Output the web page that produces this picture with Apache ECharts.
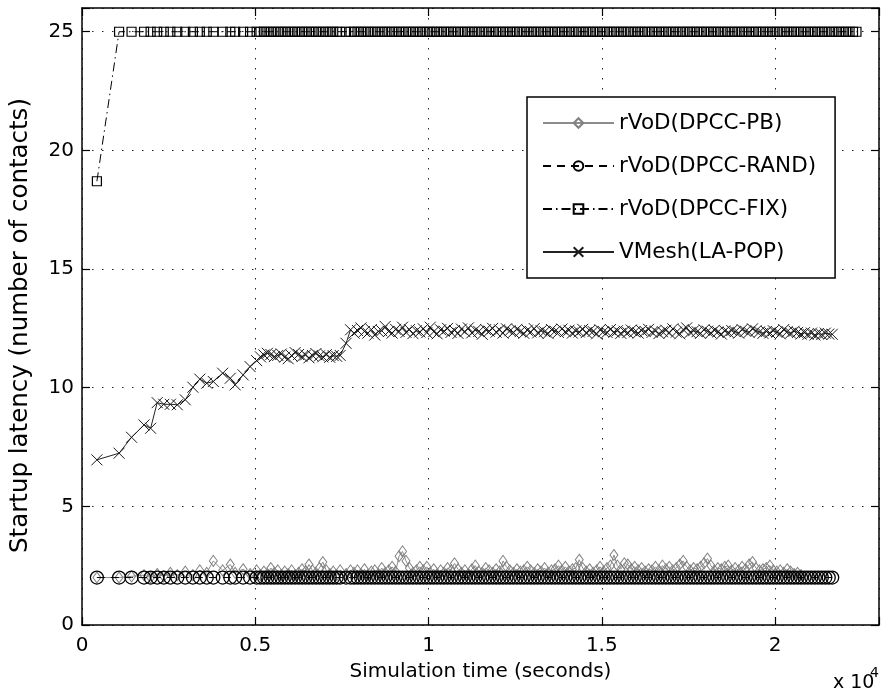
<!DOCTYPE html>
<html>
<head>
<meta charset="utf-8">
<script src="https://cdn.jsdelivr.net/npm/echarts@6/dist/echarts.min.js"></script>
<style>
html,body{margin:0;padding:0;background:#fff;}
#chart{width:882px;height:695px;}
</style>
</head>
<body>
<div id="chart"></div>
<script>
// Simulation times (seconds)
const times = [430, 1070, 1430, 1790, 1980, 2170, 2360, 2550, 2750, 2980, 3200, 3400, 3600, 3790, 4060, 4280, 4420, 4650, 4850, 5040,
  5150, 5250, 5350, 5450, 5550, 5650, 5750, 5850, 5950, 6050, 6150, 6250, 6350, 6450, 6550, 6650, 6750, 6850, 6950, 7050, 7150, 7250, 7350, 7450,
  7620, 7750,
  7850, 7950, 8050, 8150, 8250, 8350, 8450, 8550, 8650, 8750,
  8850, 8950, 9050, 9150, 9250, 9350, 9450, 9550, 9650, 9750,
  9850, 9950, 10050, 10150, 10250, 10350, 10450, 10550, 10650, 10750,
  10850, 10950, 11050, 11150, 11250, 11350, 11450, 11550, 11650, 11750,
  11850, 11950, 12050, 12150, 12250, 12350, 12450, 12550, 12650, 12750,
  12850, 12950, 13050, 13150, 13250, 13350, 13450, 13550, 13650, 13750,
  13850, 13950, 14050, 14150, 14250, 14350, 14450, 14550, 14650, 14750,
  14850, 14950, 15050, 15150, 15250, 15350, 15450, 15550, 15650, 15750,
  15850, 15950, 16050, 16150, 16250, 16350, 16450, 16550, 16650, 16750,
  16850, 16950, 17050, 17150, 17250, 17350, 17450, 17550, 17650, 17750,
  17850, 17950, 18050, 18150, 18250, 18350, 18450, 18550, 18650, 18750,
  18850, 18950, 19050, 19150, 19250, 19350, 19450, 19550, 19650, 19750,
  19850, 19950, 20050, 20150, 20250, 20350, 20450, 20550, 20650, 20750,
  20850, 20950, 21050, 21150, 21250, 21350, 21450, 21550, 21650];
const fixExtraTimes = [21750, 21850, 21950, 22050, 22150, 22250, 22350];

const seriesNames = ['rVoD(DPCC-PB)', 'rVoD(DPCC-RAND)', 'rVoD(DPCC-FIX)', 'VMesh(LA-POP)'];

const pbValues = [2.0, 2.0, 2.05, 2.1, 2.0, 2.15, 2.05, 2.2, 2.1, 2.25, 2.1, 2.3, 2.2, 2.7, 2.3, 2.55, 2.2, 2.35, 2.15, 2.3,
  2.1, 2.25, 2.15, 2.4, 2.2, 2.3, 2.1, 2.25, 2.15, 2.3, 2.1, 2.2, 2.35, 2.25, 2.55, 2.3, 2.2, 2.4, 2.65, 2.3, 2.15, 2.25, 2.1, 2.3,
  2.15, 2.3,
  2.2, 2.3, 2.15, 2.35, 2.1, 2.25, 2.3, 2.15, 2.4, 2.2,
  2.3, 2.45, 2.25, 2.9, 3.1, 2.7, 2.4, 2.2, 2.3, 2.45,
  2.3, 2.45, 2.2, 2.35, 2.15, 2.3, 2.2, 2.4, 2.3, 2.6,
  2.35, 2.2, 2.3, 2.15, 2.35, 2.5, 2.25, 2.2, 2.4, 2.3,
  2.2, 2.35, 2.25, 2.7, 2.45, 2.3, 2.2, 2.35, 2.25, 2.3,
  2.45, 2.3, 2.2, 2.35, 2.25, 2.4, 2.2, 2.3, 2.35, 2.5,
  2.3, 2.45, 2.25, 2.35, 2.4, 2.75, 2.4, 2.25, 2.35, 2.2,
  2.3, 2.45, 2.25, 2.4, 2.5, 2.95, 2.5, 2.35, 2.6, 2.55,
  2.35, 2.45, 2.3, 2.4, 2.25, 2.35, 2.3, 2.45, 2.3, 2.5,
  2.35, 2.45, 2.3, 2.4, 2.55, 2.7, 2.45, 2.3, 2.4, 2.35,
  2.45, 2.6, 2.8, 2.5, 2.3, 2.4, 2.35, 2.45, 2.5, 2.3,
  2.4, 2.3, 2.45, 2.35, 2.55, 2.65, 2.4, 2.3, 2.35, 2.4,
  2.5, 2.3, 2.25, 2.3, 2.2, 2.35, 2.25, 2.15, 2.2, 2.1];

const randValues = [
  2, 2, 2, 2, 2, 2, 2, 2, 2, 2, 2, 2, 2, 2, 2, 2, 2, 2, 2, 2,
  2, 2, 2, 2, 2, 2, 2, 2, 2, 2, 2, 2, 2, 2, 2, 2, 2, 2, 2, 2,
  2, 2, 2, 2, 2, 2, 2, 2, 2, 2, 2, 2, 2, 2, 2, 2, 2, 2, 2, 2,
  2, 2, 2, 2, 2, 2, 2, 2, 2, 2, 2, 2, 2, 2, 2, 2, 2, 2, 2, 2,
  2, 2, 2, 2, 2, 2, 2, 2, 2, 2, 2, 2, 2, 2, 2, 2, 2, 2, 2, 2,
  2, 2, 2, 2, 2, 2, 2, 2, 2, 2, 2, 2, 2, 2, 2, 2, 2, 2, 2, 2,
  2, 2, 2, 2, 2, 2, 2, 2, 2, 2, 2, 2, 2, 2, 2, 2, 2, 2, 2, 2,
  2, 2, 2, 2, 2, 2, 2, 2, 2, 2, 2, 2, 2, 2, 2, 2, 2, 2, 2, 2,
  2, 2, 2, 2, 2, 2, 2, 2, 2, 2, 2, 2, 2, 2, 2, 2, 2, 2, 2, 2,
  2, 2, 2, 2, 2];

const fixValues = [
  18.7, 25, 25, 25, 25, 25, 25, 25, 25, 25, 25, 25, 25, 25, 25, 25, 25, 25, 25, 25,
  25, 25, 25, 25, 25, 25, 25, 25, 25, 25, 25, 25, 25, 25, 25, 25, 25, 25, 25, 25,
  25, 25, 25, 25, 25, 25, 25, 25, 25, 25, 25, 25, 25, 25, 25, 25, 25, 25, 25, 25,
  25, 25, 25, 25, 25, 25, 25, 25, 25, 25, 25, 25, 25, 25, 25, 25, 25, 25, 25, 25,
  25, 25, 25, 25, 25, 25, 25, 25, 25, 25, 25, 25, 25, 25, 25, 25, 25, 25, 25, 25,
  25, 25, 25, 25, 25, 25, 25, 25, 25, 25, 25, 25, 25, 25, 25, 25, 25, 25, 25, 25,
  25, 25, 25, 25, 25, 25, 25, 25, 25, 25, 25, 25, 25, 25, 25, 25, 25, 25, 25, 25,
  25, 25, 25, 25, 25, 25, 25, 25, 25, 25, 25, 25, 25, 25, 25, 25, 25, 25, 25, 25,
  25, 25, 25, 25, 25, 25, 25, 25, 25, 25, 25, 25, 25, 25, 25, 25, 25, 25, 25, 25,
  25, 25, 25, 25, 25, 25, 25, 25, 25, 25, 25, 25];

const vmeshValues = [6.96, 7.24, 7.91, 8.43, 8.29, 9.37, 9.30, 9.30, 9.28, 9.49, 10.02, 10.36, 10.19, 10.26, 10.61, 10.40, 10.12, 10.54, 10.89, 11.14,
  11.30, 11.38, 11.45, 11.40, 11.31, 11.36, 11.42, 11.29, 11.22, 11.35, 11.48, 11.40, 11.31, 11.38, 11.26, 11.36, 11.44, 11.34, 11.30, 11.39, 11.28, 11.35, 11.32, 11.36,
  11.87, 12.44,
  12.30, 12.41, 12.52, 12.37, 12.30, 12.45, 12.22, 12.37, 12.40, 12.58,
  12.37, 12.30, 12.46, 12.37, 12.55, 12.33, 12.45, 12.28, 12.40, 12.35,
  12.48, 12.32, 12.55, 12.36, 12.27, 12.44, 12.38, 12.50, 12.33, 12.41,
  12.29, 12.47, 12.36, 12.52, 12.31, 12.43, 12.37, 12.25, 12.45, 12.38,
  12.50, 12.34, 12.44, 12.30, 12.48, 12.40, 12.33, 12.46, 12.37, 12.29,
  12.42, 12.35, 12.49, 12.31, 12.40, 12.36, 12.28, 12.45, 12.38, 12.33,
  12.47, 12.36, 12.42, 12.30, 12.39, 12.35, 12.46, 12.32, 12.41, 12.37,
  12.27, 12.44, 12.36, 12.33, 12.45, 12.34, 12.40, 12.29, 12.38, 12.32,
  12.43, 12.35, 12.30, 12.41, 12.37, 12.46, 12.33, 12.39, 12.28, 12.36,
  12.42, 12.31, 12.48, 12.34, 12.27, 12.45, 12.52, 12.33, 12.40, 12.36,
  12.29, 12.44, 12.38, 12.31, 12.42, 12.35, 12.26, 12.39, 12.33, 12.41,
  12.36, 12.30, 12.45, 12.38, 12.33, 12.48, 12.40, 12.35, 12.29, 12.37,
  12.31, 12.40, 12.34, 12.27, 12.45, 12.36, 12.30, 12.38, 12.33, 12.26,
  12.32, 12.25, 12.30, 12.22, 12.28, 12.24, 12.30, 12.26, 12.25];

const xTickLabels = {0: '0', 5000: '0.5', 10000: '1', 15000: '1.5', 20000: '2'};
const yTickLabels = {0: '0', 5: '5', 10: '10', 15: '15', 20: '20', 25: '25'};

function pairs(t, v) { return v.map((y, i) => [t[i], y]); }
const fixTimes = times.concat(fixExtraTimes);

const FONT = 'DejaVu Sans';
const chart = echarts.init(document.getElementById('chart'), null, {renderer: 'canvas'});

const axisLine = {show: true, onZero: false, lineStyle: {color: '#000', width: 1.5}};
const axisTick = {show: true, inside: true, length: 8, lineStyle: {color: '#000', width: 1.2}};
const gridLine = {show: true, lineStyle: {color: '#222', width: 1, type: [1.5, 8.5]}};

chart.setOption({
  animation: false,
  backgroundColor: '#fff',
  grid: {left: 81, right: 2, top: 8, bottom: 70},
  xAxis: [{
    type: 'value', min: 0, max: 23000, interval: 5000, position: 'bottom',
    name: 'Simulation time (seconds)', nameLocation: 'middle', nameGap: 37,
    nameTextStyle: {fontFamily: FONT, fontSize: 20, color: '#000'},
    axisLine: axisLine, axisTick: axisTick,
    axisLabel: {margin: 11, fontFamily: FONT, fontSize: 20, color: '#000',
      formatter: v => (xTickLabels[v] !== undefined ? xTickLabels[v] : '')},
    splitLine: gridLine
  }, {
    type: 'value', min: 0, max: 23000, interval: 5000, position: 'top',
    axisLine: axisLine, axisTick: axisTick,
    axisLabel: {show: false}, splitLine: {show: false}
  }],
  yAxis: [{
    type: 'value', min: 0, max: 26, interval: 5, position: 'left',
    name: 'Startup latency (number of contacts)', nameLocation: 'middle', nameGap: 49,
    nameTextStyle: {fontFamily: FONT, fontSize: 24.5, color: '#000', padding: [0, 18, 0, 0]},
    axisLine: axisLine, axisTick: axisTick,
    axisLabel: {margin: 8, fontFamily: FONT, fontSize: 20, color: '#000',
      formatter: v => (yTickLabels[v] !== undefined ? yTickLabels[v] : '')},
    splitLine: gridLine
  }, {
    type: 'value', min: 0, max: 26, interval: 5, position: 'right',
    axisLine: axisLine, axisTick: axisTick,
    axisLabel: {show: false}, splitLine: {show: false}
  }],
  legend: {
    data: seriesNames,
    orient: 'vertical', left: 527, top: 97,
    padding: [15, 19, 15, 15],
    itemWidth: 71, itemHeight: 12, itemGap: 21,
    backgroundColor: '#fff', borderColor: '#000', borderWidth: 1.5, borderRadius: 0,
    textStyle: {fontFamily: FONT, fontSize: 21.5, lineHeight: 22, color: '#000'}
  },
  graphic: [
    {type: 'text', left: 833, top: 674, style: {text: 'x 10', font: '19px "DejaVu Sans"', fill: '#000'}},
    {type: 'text', left: 870, top: 666, style: {text: '4', font: '14px "DejaVu Sans"', fill: '#000'}}
  ],
  series: [
    {
      name: seriesNames[0], type: 'line', data: pairs(times, pbValues),
      showAllSymbol: true, symbol: 'diamond', symbolSize: [8, 11],
      lineStyle: {color: '#8c8c8c', width: 1},
      itemStyle: {color: 'rgba(0,0,0,0)', borderColor: '#808080', borderWidth: 1},
      z: 2
    },
    {
      name: seriesNames[1], type: 'line', data: pairs(times, randValues),
      showAllSymbol: true, symbol: 'circle', symbolSize: 13,
      lineStyle: {color: '#000', width: 1, type: [8, 6]},
      itemStyle: {color: 'rgba(0,0,0,0)', borderColor: '#000', borderWidth: 1.3},
      z: 3
    },
    {
      name: seriesNames[2], type: 'line', data: pairs(fixTimes, fixValues),
      showAllSymbol: true, symbol: 'rect', symbolSize: 9,
      lineStyle: {color: '#000', width: 1, type: [9, 4, 1.5, 4]},
      itemStyle: {color: 'rgba(0,0,0,0)', borderColor: '#000', borderWidth: 1.2},
      z: 4
    },
    {
      name: seriesNames[3], type: 'line', data: pairs(times, vmeshValues),
      showAllSymbol: true, symbol: 'path://M0,0L10,10M10,0L0,10', symbolSize: 11,
      lineStyle: {color: '#222', width: 1},
      itemStyle: {color: 'rgba(0,0,0,0)', borderColor: '#1a1a1a', borderWidth: 1},
      z: 5
    }
  ]
});
</script>
</body>
</html>
